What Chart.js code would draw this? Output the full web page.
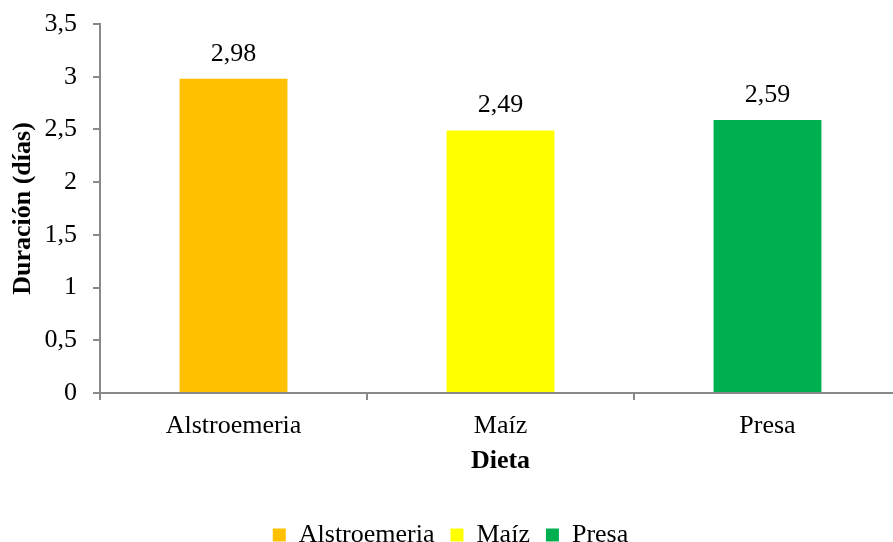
<!DOCTYPE html>
<html>
<head>
<meta charset="utf-8">
<script src="https://cdn.jsdelivr.net/npm/chart.js@4/dist/chart.umd.min.js"></script>
<style>
  html, body { margin: 0; padding: 0; overflow: hidden; background: #ffffff; width: 893px; height: 542px; }
  canvas { display: block; }
</style>
</head>
<body>
<canvas id="c" width="911" height="558"></canvas>
<script>
// Duración según la dieta
const categories = ['Alstroemeria', 'Maíz', 'Presa'];
const duracion = [2.98, 2.49, 2.59];
const barColors = ['#FFC000', '#FFFF00', '#00B050'];
const yTickLabels = ['0', '0,5', '1', '1,5', '2', '2,5', '3', '3,5'];
const yTitle = 'Duración (días)';
const xTitle = 'Dieta';

const FONT = "'Liberation Serif', 'Times New Roman', serif";
const AXIS_GREY = '#898989';

const fmt = v => v.toFixed(2).replace('.', ',');

// Value labels above each bar
const valueLabels = {
  id: 'valueLabels',
  afterDatasetsDraw(chart) {
    const ctx = chart.ctx;
    const meta = chart.getDatasetMeta(0);
    ctx.save();
    ctx.font = '26px ' + FONT;
    ctx.fillStyle = '#000';
    ctx.textAlign = 'center';
    ctx.textBaseline = 'middle';
    meta.data.forEach((bar, i) => {
      ctx.fillText(fmt(duracion[i]), bar.x, bar.y - 25);
    });
    ctx.restore();
  }
};

new Chart(document.getElementById('c'), {
  type: 'bar',
  data: {
    labels: categories,
    datasets: [{
      data: duracion,
      backgroundColor: barColors,
      borderWidth: 0,
      categoryPercentage: 1,
      barPercentage: 0.404
    }]
  },
  options: {
    responsive: false,
    animation: false,
    devicePixelRatio: 1,
    layout: { padding: { top: 24, right: 10, left: 0, bottom: 0 } },
    plugins: {
      tooltip: { enabled: false },
      legend: {
        position: 'bottom',
        labels: {
          font: { family: FONT, size: 26 },
          color: '#000',
          boxWidth: 13,
          boxHeight: 13,
          padding: 16,
          generateLabels: () => categories.map((c, i) => ({
            text: c,
            fillStyle: barColors[i],
            strokeStyle: barColors[i],
            lineWidth: 0,
            hidden: false,
            index: i
          }))
        }
      }
    },
    scales: {
      x: {
        afterFit: s => { s.height = 113; },
        border: { display: true, color: AXIS_GREY, width: 2 },
        grid: { display: true, drawOnChartArea: false, drawTicks: true, tickLength: 7, offset: true, color: AXIS_GREY, lineWidth: 2 },
        ticks: { color: '#000', font: { family: FONT, size: 26 }, padding: 11, maxRotation: 0 },
        title: { display: true, text: xTitle, color: '#000', font: { family: FONT, size: 26, weight: 'bold' }, padding: { top: 0, bottom: 29 } }
      },
      y: {
        min: 0,
        max: 3.5,
        afterFit: s => { s.width = 100; s.paddingTop = 0; },
        border: { display: true, color: AXIS_GREY, width: 2 },
        grid: { display: true, drawOnChartArea: false, drawTicks: true, tickLength: 7, color: AXIS_GREY, lineWidth: 2 },
        ticks: {
          stepSize: 0.5,
          color: '#000',
          font: { family: FONT, size: 26 },
          padding: 16,
          callback: (v, i) => yTickLabels[i]
        },
        title: { display: true, text: yTitle, color: '#000', font: { family: FONT, size: 26, weight: 'bold' }, padding: { top: 8, bottom: 0 } }
      }
    }
  },
  plugins: [valueLabels]
});
</script>
</body>
</html>
